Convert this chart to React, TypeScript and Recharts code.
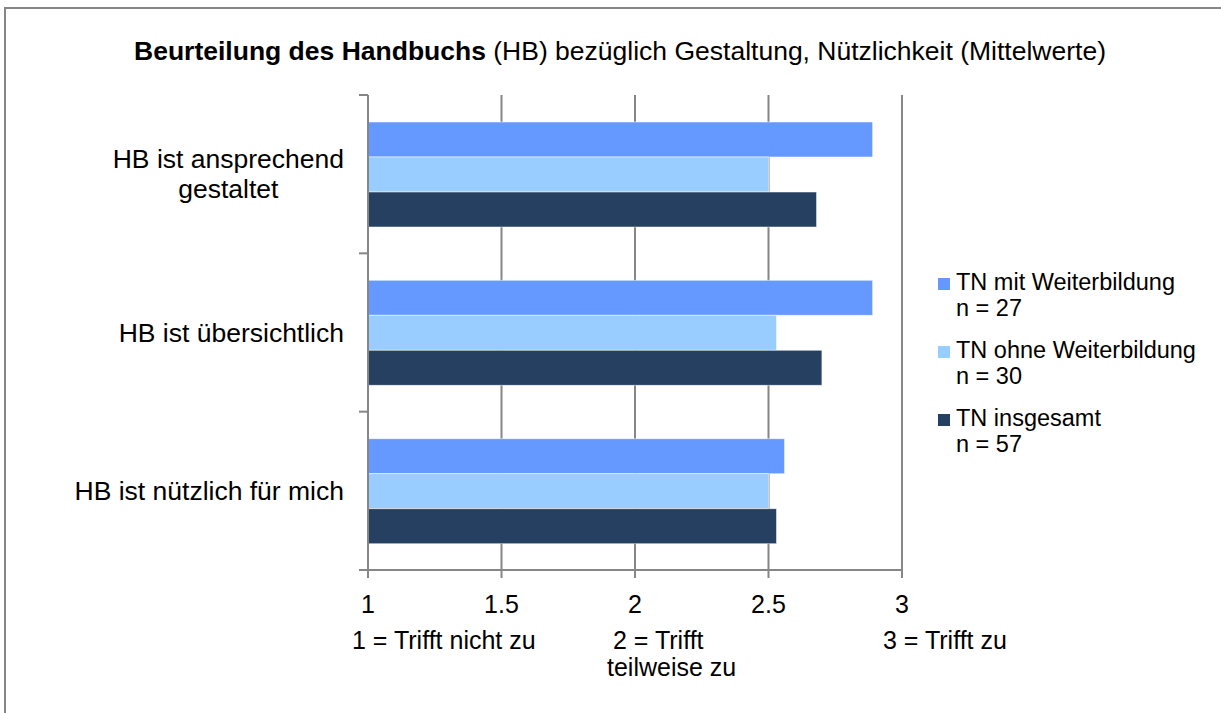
import React from 'react';
import { BarChart, Bar, XAxis, YAxis, CartesianGrid } from 'recharts';

const categories = ['HB ist ansprechend\ngestaltet', 'HB ist übersichtlich', 'HB ist nützlich für mich'];
const mitWeiterbildung = [2.89, 2.89, 2.56];
const ohneWeiterbildung = [2.5, 2.53, 2.5];
const insgesamt = [2.68, 2.7, 2.53];
const xTicks = [1, 1.5, 2, 2.5, 3];
const seriesNames = ['TN mit Weiterbildung', 'TN ohne Weiterbildung', 'TN insgesamt'];
const seriesN = ['n = 27', 'n = 30', 'n = 57'];
const seriesColors = ['#6699FF', '#99CCFF', '#254061'];

const FONT = '"Liberation Sans", Arial, sans-serif';
const GRAY = '#868686';
const PLOT_LEFT = 368;
const LABEL_RIGHT = 344;

const rows = categories.map((c, i) => ({
  cat: c,
  mit: mitWeiterbildung[i],
  ohne: ohneWeiterbildung[i],
  gesamt: insgesamt[i],
}));

let ctx: CanvasRenderingContext2D | null = null;
function textWidth(s: string, size: number) {
  if (!ctx) ctx = document.createElement('canvas').getContext('2d');
  if (!ctx) return s.length * size * 0.5;
  ctx.font = `${size}px ${FONT}`;
  return ctx.measureText(s).width;
}

function CategoryTick(props: any) {
  const { y, payload, index, visibleTicksCount } = props;
  const lines = String(payload.value).split('\n');
  const half = payload.offset || 79;
  const size = 26.5;
  const lh = 30;
  const maxW = Math.max(...lines.map((l) => textWidth(l, size)));
  const cx = LABEL_RIGHT - maxW / 2;
  const y0 = y - ((lines.length - 1) * lh) / 2;
  return (
    <g>
      <line x1={PLOT_LEFT - 9} x2={PLOT_LEFT} y1={y - half} y2={y - half} stroke={GRAY} strokeWidth={2} />
      {index === visibleTicksCount - 1 && (
        <line x1={PLOT_LEFT - 9} x2={PLOT_LEFT} y1={y + half} y2={y + half} stroke={GRAY} strokeWidth={2} />
      )}
      <text x={cx} y={y0} textAnchor="middle" dominantBaseline="central" fontSize={size} fontFamily={FONT} fill="#000">
        {lines.map((l, i) => (
          <tspan key={i} x={cx} dy={i === 0 ? 0 : lh}>
            {l}
          </tspan>
        ))}
      </text>
    </g>
  );
}

export default function App() {
  return (
    <div style={{ position: 'absolute', left: 0, top: 0, width: 1221, height: 713, overflow: 'hidden', background: '#fff', fontFamily: FONT }}>
      <div style={{ position: 'absolute', left: 4, top: 7, width: 1260, height: 760, borderTop: `2px solid ${GRAY}`, borderLeft: `2px solid ${GRAY}` }} />
      <div style={{ position: 'absolute', left: 0, top: 36, width: 1240, textAlign: 'center', fontSize: 26.5, lineHeight: '30px', color: '#000' }}>
        <b>Beurteilung des Handbuchs</b> (HB) bezüglich Gestaltung, Nützlichkeit (Mittelwerte)
      </div>
      <div style={{ position: 'absolute', left: 0, top: 0 }}>
        <BarChart
          width={1221}
          height={713}
          data={rows}
          layout="vertical"
          margin={{ top: 95, right: 319, bottom: 103, left: 8 }}
          barSize={35}
          barGap={0}
        >
          <CartesianGrid horizontal={false} stroke={GRAY} strokeWidth={2} />
          <XAxis
            type="number"
            domain={[1, 3]}
            ticks={xTicks}
            height={40}
            axisLine={{ stroke: GRAY, strokeWidth: 2 }}
            tickLine={{ stroke: GRAY, strokeWidth: 2 }}
            tickSize={8}
            tickMargin={17}
            tick={{ fontSize: 25, fill: '#000', fontFamily: FONT }}
          />
          <YAxis
            type="category"
            dataKey="cat"
            width={360}
            axisLine={{ stroke: GRAY, strokeWidth: 2 }}
            tickLine={false}
            tick={<CategoryTick />}
          />
          <Bar dataKey="mit" fill={seriesColors[0]} stroke="#ffffff" strokeOpacity={0.5} isAnimationActive={false} />
          <Bar dataKey="ohne" fill={seriesColors[1]} stroke="#ffffff" strokeOpacity={0.5} isAnimationActive={false} />
          <Bar dataKey="gesamt" fill={seriesColors[2]} stroke="#ffffff" strokeOpacity={0.5} isAnimationActive={false} />
        </BarChart>
      </div>
      <div style={{ position: 'absolute', left: 938, top: 269, fontSize: 23.5, lineHeight: '26px', color: '#000' }}>
        {seriesNames.map((name, i) => (
          <div key={name} style={{ position: 'relative', paddingLeft: 18, marginBottom: 16 }}>
            <span style={{ position: 'absolute', left: 0, top: 9, width: 12, height: 12, background: seriesColors[i] }} />
            <div style={{ whiteSpace: 'nowrap' }}>{name}</div>
            <div>{seriesN[i]}</div>
          </div>
        ))}
      </div>
      <div style={{ position: 'absolute', left: 352, top: 627, fontSize: 25, lineHeight: '27px', color: '#000', whiteSpace: 'nowrap' }}>1 = Trifft nicht zu</div>
      <div style={{ position: 'absolute', left: 613, top: 627, fontSize: 25, lineHeight: '27px', color: '#000', whiteSpace: 'nowrap' }}>2 = Trifft</div>
      <div style={{ position: 'absolute', left: 607, top: 654, fontSize: 25, lineHeight: '27px', color: '#000', whiteSpace: 'nowrap' }}>teilweise zu</div>
      <div style={{ position: 'absolute', left: 883, top: 627, fontSize: 25, lineHeight: '27px', color: '#000', whiteSpace: 'nowrap' }}>3 = Trifft zu</div>
    </div>
  );
}
